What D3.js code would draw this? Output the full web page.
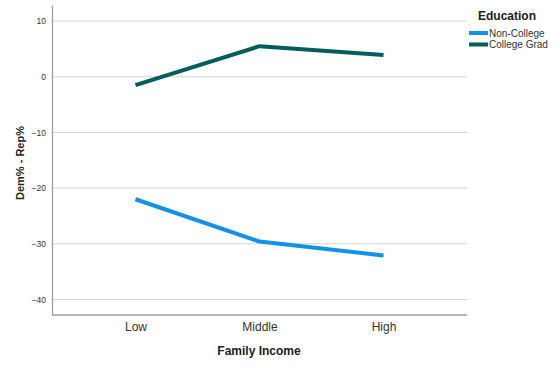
<!DOCTYPE html>
<html><head><meta charset="utf-8">
<script src="https://cdn.jsdelivr.net/npm/d3@7"></script>
<style>body{margin:0;background:#fff}svg{display:block;font-family:"Liberation Sans",Arial,sans-serif}</style>
</head><body>
<svg id="c" width="560" height="368"></svg>
<script>
const categories = ["Low", "Middle", "High"];
const seriesNames = ["Non-College", "College Grad"];
const nonCollege = [-22.0, -29.6, -32.1];
const collegeGrad = [-1.5, 5.5, 3.9];
const yTicks = [10, 0, -10, -20, -30, -40];
const colors = ["#1192e8", "#005d5d"];

const svg = d3.select("#c");
const L = 52, R = 467, T = 5, B = 315;
const x = d3.scalePoint().domain(categories).range([L, R]).padding(0.673);
const y = d3.scaleLinear().domain([-42.8, 12.9]).range([B, T]);

// gridlines
svg.append("g").selectAll("line").data(yTicks).join("line")
  .attr("x1", L).attr("x2", R).attr("y1", d => y(d)).attr("y2", d => y(d))
  .attr("stroke", "#d4d4d4").attr("stroke-width", 1);

// y axis
const ya = svg.append("g").attr("transform", `translate(${L},0)`)
  .call(d3.axisLeft(y).tickValues(yTicks).tickSize(0).tickPadding(6));
ya.select(".domain").attr("stroke", "#a0a0a0").attr("stroke-width", 1.3);
ya.selectAll("text").attr("font-size", 8.5).attr("fill", "#333").attr("font-family", "Liberation Sans, Arial, sans-serif");

// x axis
const xa = svg.append("g").attr("transform", `translate(0,${B})`)
  .call(d3.axisBottom(x).tickSize(0).tickPadding(7));
xa.select(".domain").attr("stroke", "#a0a0a0").attr("stroke-width", 1.3).attr("d", `M${L},0H${R}`);
xa.selectAll("text").attr("font-size", 12).attr("fill", "#333").attr("font-family", "Liberation Sans, Arial, sans-serif");

// lines
const line = d3.line().x((d, i) => x(categories[i])).y(d => y(d));
[nonCollege, collegeGrad].forEach((s, i) => {
  svg.append("path").datum(s).attr("d", line).attr("fill", "none")
    .attr("stroke", colors[i]).attr("stroke-width", 4).attr("stroke-linejoin", "round");
});

// axis titles
svg.append("text").attr("x", 259).attr("y", 355).attr("text-anchor", "middle")
  .attr("font-size", 12).attr("font-weight", "bold").attr("fill", "#222").text("Family Income");
svg.append("text").attr("transform", "translate(24,163) rotate(-90)").attr("text-anchor", "middle")
  .attr("font-size", 11).attr("font-weight", "bold").attr("fill", "#222").text("Dem% - Rep%");

// legend
svg.append("text").attr("x", 478).attr("y", 20).attr("font-size", 12).attr("font-weight", "bold")
  .attr("fill", "#222").text("Education");
seriesNames.forEach((n, i) => {
  const yy = 33 + i * 11.5;
  svg.append("rect").attr("x", 469).attr("y", yy - 2).attr("width", 19).attr("height", 4).attr("fill", colors[i]);
  svg.append("text").attr("x", 489).attr("y", yy + 3.5).attr("font-size", 10).attr("fill", "#333").text(n);
});
</script>
</body></html>
